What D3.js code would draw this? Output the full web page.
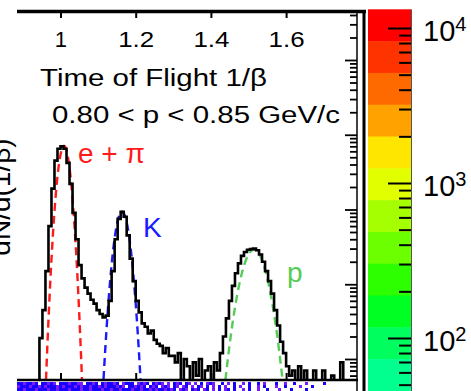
<!DOCTYPE html>
<html><head><meta charset="utf-8">
<script src="https://cdn.jsdelivr.net/npm/d3@7"></script>
<style>body{margin:0;background:#fff;overflow:hidden}svg{display:block}text{font-family:"Liberation Sans",Arial,Helvetica,sans-serif}</style>
</head><body>
<svg id="c" width="471" height="391"></svg>
<script>
// ---------------- data ----------------
const binStart = 0.936;   // low edge of first bin (1/beta)
const binWidth = 0.008;
const counts = [0,19,45,150,600,1900,4500,6500,7000,6500,4200,2200,900,400,180,120,90,75,62,55,45,40,36,38,60,150,400,750,930,800,450,220,110,60,42,30,27,22,24,18,16,15,12,14,11,11,9,12,4,10,8,5,9,6,10,5,7,8,4,9,7,12,20,35,60,95,140,190,240,270,290,295,300,285,250,200,150,110,75,45,28,17,12,8,6,7,4,8,4,7,3,4,7,3,4,7,3,4,6,3,3,9,3,4,3,3,4];
const fitLabels = ["e + π", "K", "p"];
const fitMeans  = [1.0093, 1.1636, 1.5146];
const fitSigmas = [0.0126, 0.0153, 0.0268];
const fitAmps   = [7100, 935, 290];
const fitColors = ["#ff1a1a", "#1a1aff", "#55cc55"];
const xTickValues = [1, 1.2, 1.4, 1.6];
const xTickLabels = ["1", "1.2", "1.4", "1.6"];
const yMajorTicks = [10, 100, 1000, 10000, 100000];
const zMajorTicks = [100, 1000, 10000];
const zMajorExp = ["2", "3", "4"];
const paletteColors = ["#ff0000","#ff3300","#ff6a00","#ffa200","#ffe600","#e2ff00","#a6ff00","#6cff00","#2dff00","#00ff22","#00ff5e","#00ff8f"];
const title1 = "Time of Flight 1/β";
const title2 = "0.80 < p < 0.85 GeV/c";
const yTitle = "dN/d(1/β)";
// top rows of the 2-D map peeking in under the frame: . empty, b blue, p violet
const stripRows = [
  "bbpbbpb.bbpbp.bbbpbbpp.bbpb.bpbbpb.pbbb.pbpb.bpbp.p.bpb.bp.p.b.pbp..b.p.b..p.b..b.p...b..p..b...p.....b....",
  "pbbbpbbpbpbbbpbpbbbpbpbbpbbpbpbbbpbp.bbpbpb.bpb.pbp.bp.pb.p.bp.b.p.b.p..b.p..b..p.b...p..b....p...b.......",
  "bbpbbbpbbbpbbpbbbpbbbpbbpbbbpbbpbbpbbbpbbpbbpbpbbpbpb.pbp.bpb.pb.p.b.pb.b..p.b..p..b...p...b....b........"
];
const stripColors = {b:"#1a00ff", p:"#7a1aff"};

// ---------------- layout ----------------
const svg = d3.select("#c");
const L = 17, R = 357, T = 12, B = 380;
const x = d3.scaleLinear().domain([0.88431, 1.80452]).range([17, 363]);
const y = d3.scaleLog().domain([5.236, 438700]).range([B, T]);

svg.append("clipPath").attr("id","pc").append("rect").attr("x",L).attr("y",T).attr("width",R-L).attr("height",B-T);

// strip of 2-D map
const cellW = 3, cellH = 3;
stripRows.forEach((row,r)=>{
  row.split("").forEach((ch,i)=>{
    if (stripColors[ch]) svg.append("rect").attr("x",L + i*cellW).attr("y",382 + r*cellH).attr("width",cellW).attr("height",cellH).attr("fill",stripColors[ch]);
  });
});

// fits
const g = svg.append("g").attr("clip-path","url(#pc)");
fitMeans.forEach((m,i)=>{
  const s = fitSigmas[i], a = fitAmps[i];
  const xs = d3.range(m-4*s, m+4*s, s/40);
  const pts = xs.map(v=>[v, a*Math.exp(-0.5*((v-m)/s)**2)]).filter(p=>p[1]>1);
  g.append("path").attr("d", d3.line().x(p=>x(p[0])).y(p=>y(Math.max(p[1],1)))(pts))
   .attr("fill","none").attr("stroke",fitColors[i]).attr("stroke-width",2.4).attr("stroke-dasharray","8,5");
});

// histogram
const hp = [];
const yb = c => c >= y.domain()[0] ? y(c) : B + 2;
hp.push([x(binStart), B + 2]);
counts.forEach((c,i)=>{
  const x0 = x(binStart + i*binWidth), x1 = x(binStart + (i+1)*binWidth);
  hp.push([x0, yb(c)], [x1, yb(c)]);
});
hp.push([x(binStart + counts.length*binWidth), B + 2]);
g.append("path").attr("d", d3.line()(hp)).attr("fill","none").attr("stroke","#000").attr("stroke-width",2.6);

// fit labels
const labPos = [[78,163],[143,237],[287,282]];
fitLabels.forEach((t,i)=>{
  svg.append("text").attr("x",labPos[i][0]).attr("y",labPos[i][1]).attr("fill",fitColors[i]).attr("font-size",28).text(t);
});

// frame lines
svg.append("line").attr("x1",L).attr("x2",366).attr("y1",11.5).attr("y2",11.5).attr("stroke","#000").attr("stroke-width",3.5);
svg.append("line").attr("x1",L).attr("x2",R+1).attr("y1",B).attr("y2",B).attr("stroke","#000").attr("stroke-width",2.5);
svg.append("line").attr("x1",R).attr("x2",R).attr("y1",T).attr("y2",391).attr("stroke","#000").attr("stroke-width",1.5);
svg.append("line").attr("x1",364).attr("x2",364).attr("y1",10).attr("y2",391).attr("stroke","#000").attr("stroke-width",3);

// top axis
const topAx = svg.append("g").attr("transform",`translate(0,${T})`)
  .call(d3.axisBottom(x).tickValues(xTickValues).tickSize(6).tickFormat((d,i)=>xTickLabels[i]));
topAx.select(".domain").remove();
topAx.selectAll("line").attr("stroke-width",2);
topAx.selectAll("text").attr("font-size",22).attr("y",35).attr("dy",0).attr("fill","#000")
  .attr("font-family","Liberation Sans, Arial");
topAx.selectAll("text").filter((d,i)=>xTickLabels[i].length>1).attr("textLength",36).attr("lengthAdjust","spacingAndGlyphs");
// bottom axis ticks
const botAx = svg.append("g").attr("transform",`translate(0,${B})`)
  .call(d3.axisTop(x).tickValues(xTickValues).tickSize(7).tickFormat(""));
botAx.select(".domain").remove();
botAx.selectAll("line").attr("stroke-width",2);

// right log axis (ticks only)
const yAll = y.ticks().filter(v=>v<y.domain()[1]);
const yMinor = yAll.filter(v=>!yMajorTicks.includes(v));
const ra1 = svg.append("g").attr("transform",`translate(${R},0)`).call(d3.axisLeft(y).tickValues(yMinor).tickSize(7).tickFormat(""));
const ra2 = svg.append("g").attr("transform",`translate(${R},0)`).call(d3.axisLeft(y).tickValues(yMajorTicks).tickSize(12).tickFormat(""));
[ra1,ra2].forEach(a=>{a.select(".domain").remove();a.selectAll("line").attr("stroke-width",1.8);});

// titles
svg.append("text").attr("x",40).attr("y",86).attr("font-size",23).attr("textLength",227).attr("lengthAdjust","spacingAndGlyphs").text(title1);
svg.append("text").attr("x",52).attr("y",123).attr("font-size",23).attr("textLength",288).attr("lengthAdjust","spacingAndGlyphs").text(title2);
svg.append("text").attr("transform","translate(10,197) rotate(-90)").attr("text-anchor","middle").attr("font-size",28).text(yTitle);

// colour bar
const zTop = 9.3, zBandH = 31.8;
const z = d3.scaleLog().domain([100, 10000]).range([338, 28]);
const cb = svg.append("g");
paletteColors.forEach((c,i)=>{
  const v0 = z.invert(zTop + i*zBandH), v1 = z.invert(zTop + (i+1)*zBandH);
  cb.append("rect").attr("x",368).attr("width",43).attr("y",z(v0)).attr("height",z(v1)-z(v0)+0.5).attr("fill",c);
});
cb.append("line").attr("x1",411.5).attr("x2",411.5).attr("y1",zTop).attr("y2",391).attr("stroke","#555").attr("stroke-width",1);
const zAll = z.copy().domain([20, 20000]).ticks().filter(v=>z(v)>zTop && z(v)<391);
const zMinor = zAll.filter(v=>!zMajorTicks.includes(v));
const za1 = svg.append("g").attr("transform","translate(411,0)").call(d3.axisLeft(z).tickValues(zMinor).tickSize(12).tickFormat(""));
const za2 = svg.append("g").attr("transform","translate(411,0)").call(d3.axisLeft(z).tickValues(zMajorTicks).tickSize(23).tickFormat(""));
[za1,za2].forEach(a=>{a.select(".domain").remove();a.selectAll("line").attr("stroke-width",2);});
zMajorTicks.forEach((v,i)=>{
  const t = svg.append("text").attr("x",423).attr("y",z(v)+13).attr("font-size",29);
  t.append("tspan").text("10");
  t.append("tspan").attr("font-size",20).attr("dy",-10).text(zMajorExp[i]);
});
</script>
</body></html>
